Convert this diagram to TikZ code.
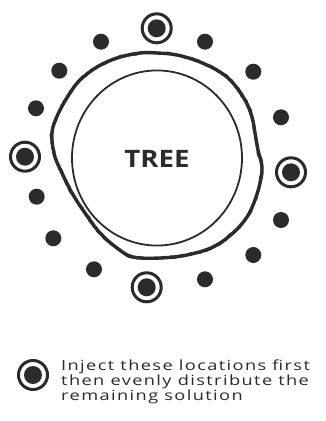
\documentclass[tikz,border=0pt]{standalone}
\usepackage{fontspec}
\usetikzlibrary{decorations.pathmorphing}
\newfontfamily\treefont[FakeStretch=1.15]{Open Sans}
\newfontfamily\legendfont[FakeStretch=1.3, LetterSpace=10]{Open Sans}
\definecolor{ink}{HTML}{2B2B2B}
\tikzset{
  plaindot/.style={circle, fill=ink, inner sep=0pt, minimum size=16pt},
  ringmark/.style={circle, draw=ink, line width=3pt, inner sep=0pt, minimum size=29pt},
  ringdot/.style={circle, fill=ink, inner sep=0pt, minimum size=18pt},
  bark/.style={draw=ink, line width=3.4pt, line join=round},
  barkrough/.style={draw=ink, line width=2.2pt, line join=round, decorate,
     decoration={random steps, segment length=2.5pt, amplitude=1pt}},
  trunk/.style={draw=ink, line width=1.8pt},
}
\begin{document}
\begin{tikzpicture}[x=1pt, y=-1pt]
\pgfmathsetseed{7}
\useasboundingbox[fill=white] (0,0) rectangle (326,421);
% bark outline
\path[bark] plot[smooth cycle, tension=0.6] coordinates {
 (140,53) (157,53) (177,55) (200,62) (220,72) (233,83) (245,100) (252,117)
 (255,133) (258,150) (262,167) (260,183) (255,200) (247,217) (233,233)
 (213,247) (187,255) (160,258) (133,257) (117,248) (100,233) (85,213)
 (72,193) (62,173) (55,157) (52,140) (53,127) (60,110) (70,93) (80,80)
 (97,67) (117,58)};
\path[barkrough] plot[smooth cycle, tension=0.6] coordinates {
 (140,53) (157,53) (177,55) (200,62) (220,72) (233,83) (245,100) (252,117)
 (255,133) (258,150) (262,167) (260,183) (255,200) (247,217) (233,233)
 (213,247) (187,255) (160,258) (133,257) (117,248) (100,233) (85,213)
 (72,193) (62,173) (55,157) (52,140) (53,127) (60,110) (70,93) (80,80)
 (97,67) (117,58)};
% trunk circle
\node[trunk, circle, inner sep=0pt, minimum size=170pt, yscale=1.03] (trunk) at (157,158) {};
\node[font=\treefont\bfseries\fontsize{24}{24}\selectfont, text=ink] (tree) at (157,159) {TREE};
% injection targets
\foreach \n/\x/\y in {top/156.7/28.3, left/25/156.7, right/291/172.3, bottom/146.7/287.3}{
  \node[ringmark] (r\n) at (\x,\y) {};
  \node[ringdot] (d\n) at (\x,\y) {};
}
% plain dots
\foreach \n/\x/\y in {a/101/41.7, b/205/41.7, c/59.3/70.7, d/253.3/71.7,
  e/36/108.3, f/281/117.3, g/36.7/196.7, h/281/220, i/53.3/238.3,
  j/253.3/255, k/94/269.3, l/205/279.3}{
  \node[plaindot] (p\n) at (\x,\y) {};
}
% legend
\node[ringmark] (lgring) at (33,375) {};
\node[ringdot] (lgdot) at (33,375) {};
\node[anchor=west, align=left, inner sep=0pt, text=ink,
  font=\legendfont\fontsize{14}{13.5}\selectfont] (legend) at (61,382)
  {Inject these locations first\\then evenly distribute the\\remaining solution};
\end{tikzpicture}
\end{document}
